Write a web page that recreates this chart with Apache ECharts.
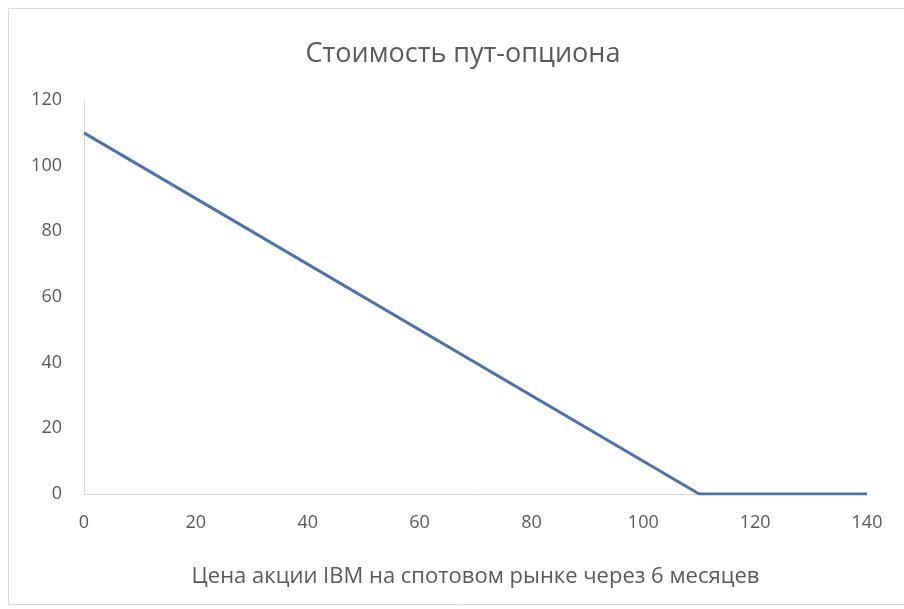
<!DOCTYPE html>
<html><head><meta charset="utf-8">
<script src="https://cdn.jsdelivr.net/npm/echarts@6/dist/echarts.min.js"></script>
<style>html,body{margin:0;padding:0;background:#fff}#c{width:904px;height:609px}</style>
</head><body><div id="c"></div>
<script>
const title = 'Стоимость пут-опциона';
const xAxisName = 'Цена акции IBM на спотовом рынке через 6 месяцев';
const spotPrices = [0, 110, 140];
const putValues = [110, 0, 0];
const xTicks = [0, 20, 40, 60, 80, 100, 120, 140];
const yTicks = [0, 20, 40, 60, 80, 100, 120];

const chart = echarts.init(document.getElementById('c'));
const txt = '#595959';
const font = '"Open Sans", "Noto Sans", sans-serif';
chart.setOption({
  animation: false,
  backgroundColor: '#fff',
  graphic: [{
    type: 'rect', shape: {x: 8.5, y: 8.5, width: 1000, height: 596},
    style: {fill: 'none', stroke: '#d9d9d9', lineWidth: 1}, silent: true
  }],
  title: {
    text: title, left: 458, top: 36, textAlign: 'center',
    textStyle: {color: txt, fontSize: 27, fontWeight: 'normal', fontFamily: font}
  },
  grid: {left: 84, right: 37, top: 100, bottom: 115},
  xAxis: {
    type: 'value', min: xTicks[0], max: xTicks[xTicks.length - 1], interval: 20,
    name: xAxisName, nameLocation: 'middle', nameGap: 72,
    nameTextStyle: {color: txt, fontSize: 22, fontFamily: font},
    axisLine: {show: true, lineStyle: {color: '#d9d9d9', width: 1}},
    axisTick: {show: false},
    axisLabel: {color: txt, fontSize: 18, fontFamily: font, margin: 20},
    splitLine: {show: false}
  },
  yAxis: {
    type: 'value', min: yTicks[0], max: yTicks[yTicks.length - 1], interval: 20,
    axisLine: {show: true, lineStyle: {color: '#d9d9d9', width: 1}},
    axisTick: {show: false},
    axisLabel: {color: txt, fontSize: 18, fontFamily: font, margin: 22},
    splitLine: {show: false}
  },
  series: [{
    type: 'line',
    data: spotPrices.map((x, i) => [x, putValues[i]]),
    showSymbol: false, symbol: 'none',
    lineStyle: {color: '#4f72a6', width: 3},
    z: 5
  }]
});
</script></body></html>
